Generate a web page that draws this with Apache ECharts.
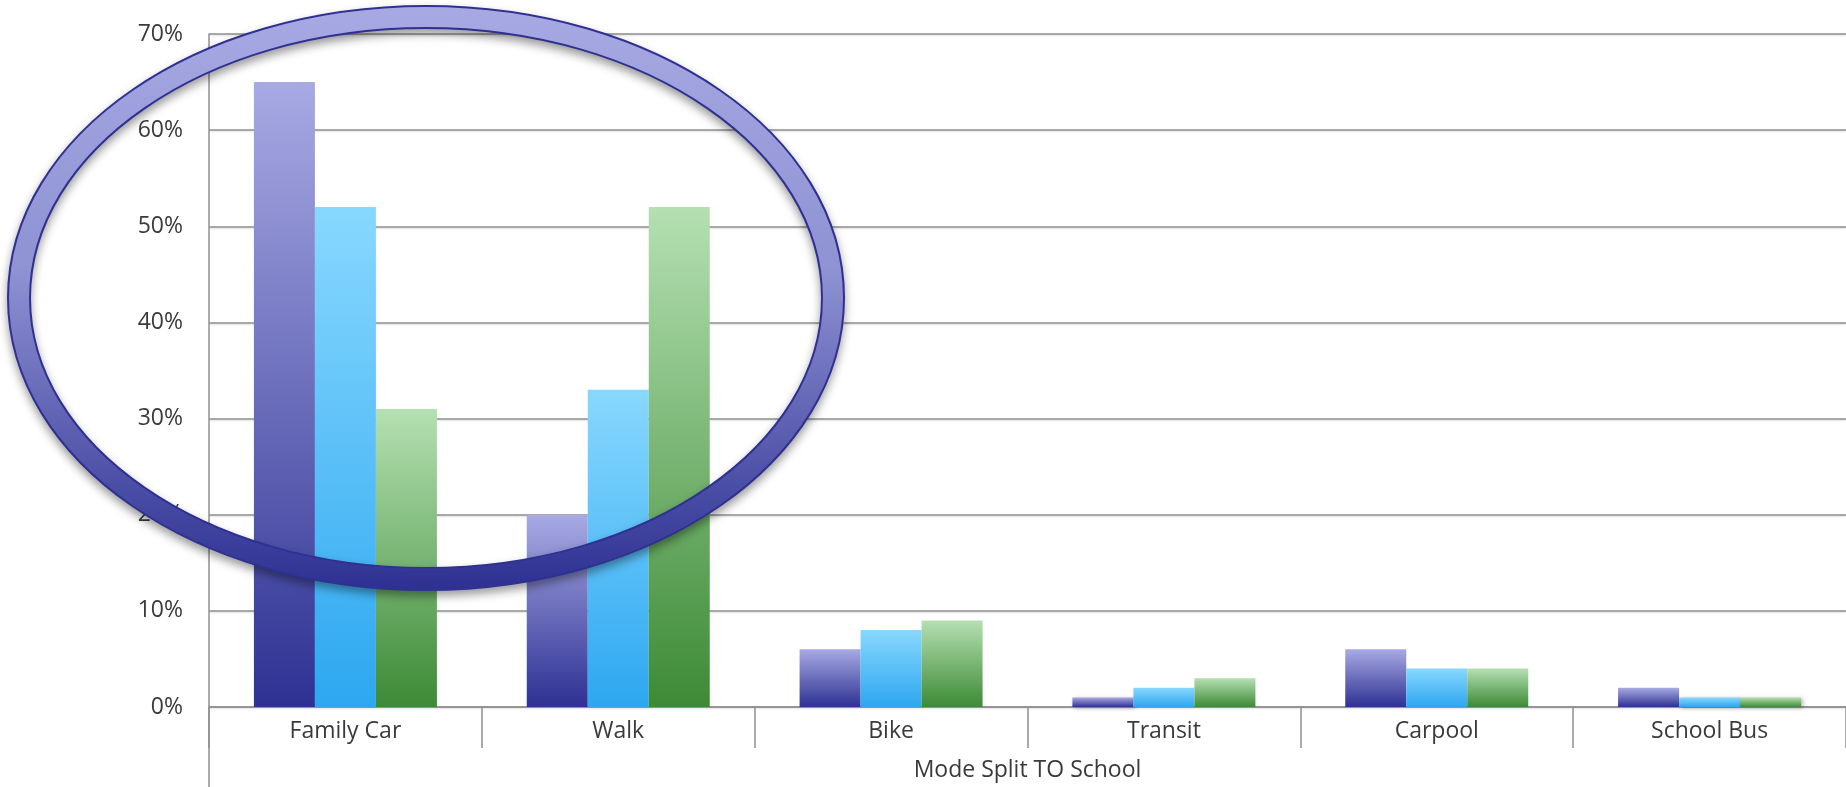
<!DOCTYPE html>
<html>
<head>
<meta charset="utf-8">
<script src="https://cdn.jsdelivr.net/npm/echarts@6/dist/echarts.min.js"></script>
<style>
html,body{margin:0;padding:0;background:#fff;}
#chart{width:1846px;height:787px;}
</style>
</head>
<body>
<div id="chart"></div>
<script>
const categories = ['Family Car', 'Walk', 'Bike', 'Transit', 'Carpool', 'School Bus'];
const series1 = [65, 20, 6, 1, 6, 2];
const series2 = [52, 33, 8, 2, 4, 1];
const series3 = [31, 52, 9, 3, 4, 1];
const seriesNames = ['Series 1', 'Series 2', 'Series 3'];
const yTicks = [0, 10, 20, 30, 40, 50, 60, 70];
const axisTitle = 'Mode Split TO School';

const FONT = '"Open Sans", "Noto Sans", sans-serif';
function grad(top, bottom) {
  return { type: 'linear', x: 0, y: 0, x2: 0, y2: 1,
    colorStops: [{ offset: 0, color: top }, { offset: 1, color: bottom }] };
}
const barStyle = (top, bottom) => ({
  color: grad(top, bottom),
  shadowColor: 'rgba(0,0,0,0.28)', shadowBlur: 4, shadowOffsetX: 2, shadowOffsetY: 1
});

const chart = echarts.init(document.getElementById('chart'), null, { renderer: 'canvas' });
const option = {
  animation: false,
  backgroundColor: '#fff',
  grid: { left: 209, top: 34, bottom: 78, width: 1641, containLabel: false },
  xAxis: {
    type: 'category',
    data: categories,
    name: axisTitle,
    nameLocation: 'middle',
    nameGap: 52,
    nameTextStyle: { fontFamily: FONT, fontSize: 23, color: '#3a3a3a' },
    axisLine: { show: true, lineStyle: { color: '#8f8f8f', width: 1.5 } },
    axisTick: { show: true, length: 41, alignWithLabel: false, lineStyle: { color: '#8f8f8f', width: 1.5 } },
    axisLabel: { margin: 13, fontFamily: FONT, fontSize: 23, color: '#3a3a3a' }
  },
  yAxis: {
    type: 'value',
    min: yTicks[0],
    max: yTicks[yTicks.length - 1],
    interval: 10,
    axisLine: { show: true, lineStyle: { color: '#8f8f8f', width: 1.5 } },
    axisTick: { show: false },
    axisLabel: { margin: 26, fontFamily: FONT, fontSize: 23, color: '#3a3a3a', formatter: v => v + '%' },
    splitLine: { show: true, lineStyle: { color: '#8f8f8f', width: 1.5,
      shadowColor: 'rgba(0,0,0,0.15)', shadowBlur: 2, shadowOffsetY: 1 } }
  },
  series: [
    { name: seriesNames[0], type: 'bar', data: series1, barWidth: 61, barGap: '0%',
      itemStyle: barStyle('#a8aae4', '#2e3192') },
    { name: seriesNames[1], type: 'bar', data: series2, barWidth: 61, barGap: '0%',
      itemStyle: barStyle('#88d8fe', '#2da7f0') },
    { name: seriesNames[2], type: 'bar', data: series3, barWidth: 61, barGap: '0%',
      itemStyle: barStyle('#b5e0b2', '#3d8a36') }
  ]
};
chart.setOption(option);

// y axis line extension below the plot, and annotation ellipse
const origin = chart.convertToPixel({ gridIndex: 0 }, [0, 0]);
const axisX = 209;
chart.setOption({
  graphic: [
    { type: 'line', z: 5, shape: { x1: axisX, y1: origin[1], x2: axisX, y2: 787 },
      style: { stroke: '#8f8f8f', lineWidth: 1.5 } },
    { type: 'ellipse', z: 100, shape: { cx: 426, cy: 298, rx: 407, ry: 281 },
      style: { fill: null, stroke: '#2e3192', lineWidth: 24,
        shadowColor: 'rgba(0,0,0,0.4)', shadowBlur: 10, shadowOffsetY: 5 } },
    { type: 'ellipse', z: 101, shape: { cx: 426, cy: 298, rx: 407, ry: 281 },
      style: { fill: null, lineWidth: 20,
        stroke: { type: 'linear', x: 0, y: 0, x2: 0, y2: 1, global: false,
          colorStops: [{ offset: 0, color: '#a7a9e3' }, { offset: 0.45, color: '#8f92d3' },
                       { offset: 0.8, color: '#4f52a8' }, { offset: 1, color: '#2e3192' }] } } }
  ]
});
</script>
</body>
</html>
